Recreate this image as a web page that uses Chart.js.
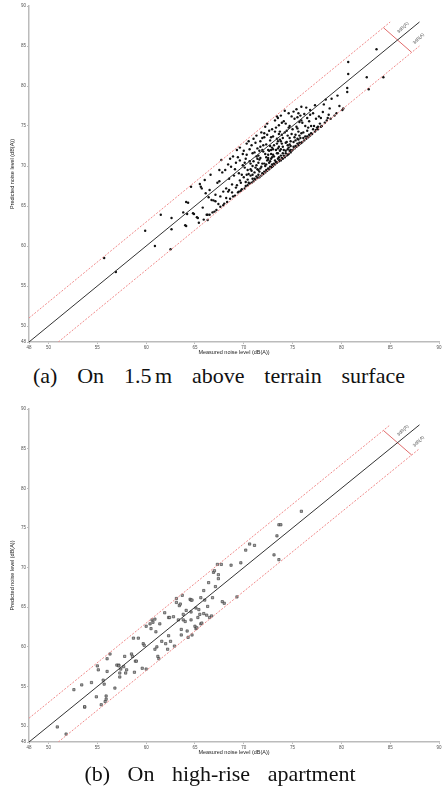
<!DOCTYPE html>
<html>
<head>
<meta charset="utf-8">
<script src="https://cdn.jsdelivr.net/npm/chart.js@4/dist/chart.umd.min.js"></script>
<style>
  body { margin: 0; background: #fff; width: 444px; height: 791px; position: relative; overflow: hidden; }
  canvas { position: absolute; left: 0; }
  .cap { position: absolute; font-family: "Liberation Serif", "DejaVu Serif", serif; font-size: 22px; color: #111; white-space: nowrap; }
  .capA { text-align: justify; text-align-last: justify; }
  .capB { text-align: center; word-spacing: 12px; }
</style>
</head>
<body>
<canvas id="chartA" width="444" height="362" style="top:0"></canvas>
<div class="cap capA" style="top:363px; left:33px; width:372px">(a) On 1.5&#8198;m above terrain surface</div>
<canvas id="chartB" width="444" height="362" style="top:400px"></canvas>
<div class="cap capB" style="top:761px; left:0; width:440px">(b) On high-rise apartment</div>
<script>
// axis ticks (same for both panels)
const tickVals = [48, 50, 55, 60, 65, 70, 75, 80, 85, 90]
const xTitle = 'Measured noise level (dB(A))'
const yTitle = 'Predicted noise level (dB(A))'
const bandLabel = '3dB(A)'

// reference lines: y = x and the +-3 dB band
const lineEqual = [[48, 48], [88, 88]]
const lineUpper = [[48, 51], [85, 88]]
const lineLower = [[51, 48], [88, 85]]
const bandMark = [[84.3, 87.3], [87.2, 84.2]]
const bandLabelPos = [[86.3, 87.3], [87.9, 85.9]]

// (a) 1.5 m above terrain: [measured, predicted]
const pointsA = [
  [55.7,58.5],[56.9,56.75],[59.9,61.9],[60.9,60.0],[61.5,63.9],
  [62.6,63.5],[62.6,62.1],[62.5,59.6],[63.8,64.2],
  [64.1,65.5],[64.3,65.4],[64.2,64.0],[64.1,62.5],[64.6,67.4],[64.8,64.1],[64.9,64.0],[64.0,62.6],
  [65.2,63.6],[65.3,63.5],[65.5,67.75],[65.6,67.4],[65.7,67.2],[65.9,63.3],[65.4,62.9],[65.8,64.8],
  [66.1,66.6],[66.3,63.9],[66.5,63.9],[66.3,63.25],[66.7,65.75],[66.5,67.0],[66.0,68.25],[66.2,63.9],[66.8,64.2],[66.6,68.9],[66.9,65.7],[66.4,66.1],
  [67.1,65.6],[67.4,65.25],[67.1,66.4],[67.5,68.1],[67.7,70.75],[67.6,64.9],[67.8,69.2],[67.2,64.5],[67.9,66.8],[67.3,67.9],[67.6,66.2],[67.9,65.1],[67.5,69.5],[67.0,64.3],
  [68.2,66.0],[68.4,66.8],[68.1,69.5],[68.6,70.9],[68.3,65.5],[68.8,67.7],[68.5,68.4],[68.9,66.2],[68.7,69.9],[68.2,67.2],[68.6,65.9],[68.9,71.2],[68.4,70.2],[68.8,66.7],[68.0,65.3],[68.5,67.0],
  [69.3,72.0],[69.1,66.3],[69.4,66.7],[69.6,68.2],[69.8,67.1],[69.2,70.4],[69.5,69.1],[69.9,71.5],[69.7,66.9],[69.0,68.8],[69.3,67.6],[69.6,70.7],[69.8,68.9],[69.4,71.1],[69.1,69.6],[69.7,67.9],[69.5,66.8],[69.9,70.1],[69.2,67.3],[69.6,72.3],
  [70.3,72.8],[70.1,67.2],[70.2,67.5],[70.4,67.6],[70.6,67.8],[70.8,67.9],[70.5,69.0],[70.7,70.3],[70.9,71.6],[70.2,70.9],[70.0,68.6],[70.4,68.3],[70.6,72.1],[70.8,69.4],[70.3,71.4],[70.9,68.4],[70.1,69.8],[70.5,73.1],[70.7,68.8],[70.2,68.0],[70.6,70.6],[70.9,70.0],[70.4,69.5],[70.0,71.9],[70.8,72.6],
  [70.3,68.9],[70.7,69.6],[70.1,70.4],[70.5,67.9],[70.9,68.9],
  [71.0,68.1],[71.2,68.3],[71.4,68.5],[71.6,68.6],[71.8,68.8],[71.1,69.2],[71.3,70.1],[71.5,71.3],[71.7,72.4],[71.9,73.5],[71.2,72.9],[71.4,69.6],[71.6,70.8],[71.8,69.9],[71.0,70.6],[71.3,73.8],[71.5,68.9],[71.7,71.0],[71.9,72.0],[71.1,71.7],[71.4,72.2],[71.6,69.3],[71.8,74.2],[71.2,69.8],[71.5,70.4],[71.9,69.1],[71.3,68.7],[71.7,73.1],[71.0,73.4],[71.6,71.9],
  [71.1,68.4],[71.5,69.5],[71.9,70.3],[71.3,71.2],[71.7,69.7],[71.4,70.9],
  [72.2,74.9],[72.0,69.0],[72.2,69.2],[72.4,69.4],[72.6,69.6],[72.8,69.8],[72.1,70.3],[72.3,71.1],[72.5,72.0],[72.7,73.2],[72.9,74.6],[72.4,75.3],[72.6,70.4],[72.8,71.5],[72.0,71.8],[72.3,72.7],[72.5,70.8],[72.7,69.9],[72.9,72.3],[72.1,73.6],[72.4,73.9],[72.6,74.4],[72.8,70.9],[72.2,70.0],[72.5,71.4],[72.7,72.5],[72.9,70.2],[72.0,72.6],[72.3,69.5],[72.6,71.9],[72.8,73.6],[72.4,70.7],[72.1,74.1],[72.9,71.1],[72.5,69.7],
  [72.1,69.3],[72.3,70.2],[72.7,70.6],[72.9,69.9],[72.5,71.0],[72.2,71.5],[72.8,72.0],
  [73.5,76.0],[73.0,70.0],[73.2,70.2],[73.4,70.4],[73.6,70.6],[73.8,70.7],[73.1,71.2],[73.3,72.0],[73.5,73.1],[73.7,74.3],[73.9,75.4],[73.2,75.7],[73.4,71.6],[73.6,72.4],[73.8,71.3],[73.0,73.7],[73.3,74.8],[73.5,70.9],[73.7,71.9],[73.9,72.8],[73.1,72.6],[73.4,73.4],[73.6,74.0],[73.8,76.3],[73.0,71.4],[73.2,74.3],[73.5,72.2],[73.7,70.8],[73.9,73.9],[73.3,70.5],[73.6,75.1],[73.8,72.1],[73.1,70.3],[73.4,76.2],[73.7,73.3],
  [73.2,70.7],[73.6,71.1],[73.9,71.0],[73.4,72.8],[73.0,72.1],[73.8,73.1],[73.5,71.6],
  [74.6,76.6],[74.0,70.9],[74.2,71.1],[74.4,71.3],[74.6,71.5],[74.8,71.7],[74.1,72.0],[74.3,72.9],[74.5,73.8],[74.7,75.0],[74.9,76.2],[74.2,76.9],[74.4,74.4],[74.6,72.3],[74.8,73.1],[74.0,73.5],[74.3,71.6],[74.5,72.6],[74.7,71.9],[74.9,74.0],[74.1,75.6],[74.4,73.0],[74.6,74.8],[74.8,72.5],[74.2,74.2],[74.5,71.4],[74.7,73.5],[74.9,71.9],[74.0,72.4],[74.3,75.3],
  [74.1,71.3],[74.5,72.1],[74.8,72.0],[74.3,71.9],[74.7,72.7],[74.0,71.6],
  [75.9,77.4],[75.6,76.6],[75.0,72.0],[75.2,72.2],[75.4,72.4],[75.6,72.6],[75.8,72.8],[75.1,73.0],[75.3,73.9],[75.5,74.7],[75.7,75.5],[75.9,74.1],[75.2,75.9],[75.4,77.1],[75.6,73.3],[75.8,76.3],[75.0,74.6],[75.3,72.5],[75.5,73.4],[75.7,72.9],[75.9,75.7],[75.1,76.8],[75.4,74.9],[75.6,74.3],[75.8,73.5],[75.2,73.6],[75.5,76.1],[75.9,72.9],
  [75.1,72.4],[75.5,72.8],[75.7,73.8],[75.3,73.2],
  [76.5,76.0],[76.0,73.0],[76.2,73.2],[76.4,73.4],[76.6,73.6],[76.8,73.8],[76.1,74.2],[76.3,75.0],[76.5,74.4],[76.7,75.6],[76.9,74.1],[76.2,76.5],[76.4,77.3],[76.6,74.8],[76.8,76.4],[76.0,75.4],[76.3,73.7],[76.7,73.9],[76.9,75.0],[76.1,73.5],[76.5,73.7],[76.8,77.0],
  [77.1,76.6],[77.0,74.0],[77.3,74.3],[77.6,74.6],[77.9,74.9],[77.2,75.0],[77.4,75.9],[77.7,76.2],[77.5,74.8],[77.8,75.3],[77.3,77.6],[77.6,74.9],[77.1,74.6],[77.9,76.0],[77.4,74.5],
  [78.1,76.75],[78.0,75.0],[78.3,75.4],[78.5,75.7],[78.7,76.4],[78.9,75.9],[78.2,77.7],[78.6,76.0],[78.4,78.3],[78.8,77.2],
  [79.0,78.4],[79.3,76.3],[79.5,76.6],[79.8,77.5],[80.1,77.0],[80.2,77.2],[79.6,78.8],[80.6,79.75],[80.6,79.25],[80.7,81.5],[80.7,83.0],
  [82.6,81.1],[82.8,79.6],[84.3,81.1],[83.6,84.6]
]

// (b) high-rise apartment: [measured, predicted]
const pointsB = [
  [50.9,49.9],[51.8,49.0],[52.6,54.6],[53.4,55.2],[53.7,52.4],[53.7,52.45],[54.4,55.5],[54.9,53.7],[55.0,57.6],[55.1,57.1],
  [55.4,52.7],[55.6,55.8],[55.7,55.3],[55.8,53.1],[55.9,53.8],[55.9,53.4],[56.0,56.9],[56.0,58.5],[56.3,59.1],[56.8,54.8],
  [57.0,57.7],[57.2,57.7],[57.3,56.7],[57.3,56.2],[57.2,57.6],[57.4,57.2],[57.7,57.5],[57.8,58.8],[57.9,56.7],[58.0,57.1],
  [58.5,59.1],[58.6,58.8],[58.8,56.8],[58.9,58.2],[59.0,58.2],[58.7,61.1],[59.2,61.1],[59.7,60.4],[59.8,60.2],[59.6,57.3],
  [60.0,57.2],[60.0,62.6],[60.4,62.9],[60.5,62.3],[60.6,63.4],[60.7,63.1],[60.9,63.5],[61.0,61.9],[61.1,60.0],[60.9,59.7],
  [61.2,58.8],[61.3,58.5],[61.4,62.9],[61.6,60.7],[61.9,64.3],[62.0,60.4],[62.2,59.7],[62.3,61.4],[62.3,63.7],[62.4,63.7],
  [62.5,60.7],[62.8,63.8],[62.9,60.1],[63.1,65.6],[63.1,66.1],[63.3,63.4],[63.4,65.2],[63.5,65.4],[63.6,62.2],[63.6,61.5],
  [63.7,66.5],[63.8,63.4],[63.8,64.1],[64.0,63.2],[64.1,64.6],[64.2,62.0],[64.3,61.2],[64.5,66.0],[64.6,65.9],[64.7,65.9],
  [64.6,63.4],[64.6,64.4],[64.7,61.5],[65.0,62.6],[65.1,64.9],[65.1,62.3],[65.2,62.4],[65.3,63.7],[65.4,64.7],[65.5,64.1],
  [65.6,66.2],[65.6,62.9],[65.7,63.0],[65.9,64.2],[65.9,67.1],[66.0,65.9],[66.2,64.0],[66.3,65.1],[66.4,68.1],[66.5,63.7],
  [66.7,63.9],[66.8,66.2],[66.9,69.4],[67.0,69.6],[67.1,67.6],[67.3,70.4],[67.4,69.1],[67.4,68.6],[67.7,70.4],[67.8,65.7],
  [68.0,65.5],[68.7,70.3],[69.3,66.3],[69.7,70.6],[70.2,72.2],[70.6,72.97],[71.1,72.8],[73.1,71.6],[73.4,74.0],[73.6,71.0],
  [73.6,75.4],[73.8,75.4],[75.9,77.1]
]

const toXY = arr => arr.map(p => ({x: p[0], y: p[1]}))

// "3dB(A)" sildid vahemiku tähistuse juures
const bandTextPlugin = {
  id: 'bandText',
  afterDatasetsDraw(chart) {
    const c = chart.ctx
    const xs = chart.scales.x, ys = chart.scales.y
    c.save()
    c.fillStyle = '#555'
    c.font = '4.5px "Liberation Sans", Arial, sans-serif'
    c.textAlign = 'center'
    c.textBaseline = 'middle'
    bandLabelPos.forEach(p => {
      c.save()
      c.translate(xs.getPixelForValue(p[0]), ys.getPixelForValue(p[1]))
      c.rotate(-Math.PI / 4)
      c.fillText(bandLabel, 0, 0)
      c.restore()
    })
    c.restore()
  }
}

function makeChart(id, points, pointOpts, topPad) {
  const ctx = document.getElementById(id).getContext('2d')
  const axis = (title, isY) => ({
    type: 'linear',
    min: 48,
    max: 90,
    afterBuildTicks: s => { s.ticks = tickVals.map(v => ({value: v})) },
    afterFit: s => { if (isY) s.width = 29; else s.height = 20 },
    border: {display: true, color: '#bbb', width: 1.5},
    grid: {drawOnChartArea: false, drawTicks: true, tickLength: 2, color: '#bbb'},
    ticks: {
      color: '#555',
      padding: 1,
      maxRotation: 0,
      autoSkip: false,
      font: {size: 4.5, family: '"Liberation Sans", Arial, sans-serif'},
      callback: v => String(v)
    },
    title: {
      display: true,
      text: title,
      color: '#222',
      font: {size: 5.5, family: '"Liberation Sans", Arial, sans-serif'},
      padding: isY ? {top: 9, bottom: 0} : {top: 0, bottom: 6}
    }
  })
  const lineDs = (arr, color, dash, w) => ({
    type: 'line',
    data: toXY(arr),
    borderColor: color,
    borderWidth: w,
    borderDash: dash,
    pointRadius: 0,
    showLine: true,
    fill: false
  })
  return new Chart(ctx, {
    type: 'scatter',
    data: {
      datasets: [
        lineDs(lineUpper, '#f08a8a', [2, 1.5], 1),
        lineDs(lineLower, '#f08a8a', [2, 1.5], 1),
        lineDs(lineEqual, '#333', [], 1),
        lineDs(bandMark, '#e06a6a', [], 1),
        Object.assign({data: toXY(points)}, pointOpts)
      ]
    },
    options: {
      responsive: false,
      animation: false,
      layout: {padding: {top: topPad, right: 5, left: 0, bottom: 0}},
      plugins: {legend: {display: false}, tooltip: {enabled: false}},
      scales: {x: axis(xTitle, false), y: axis(yTitle, true)}
    },
    plugins: [bandTextPlugin]
  })
}

makeChart('chartA', pointsA, {
  pointStyle: 'circle', pointRadius: 1.2, backgroundColor: '#111', borderColor: '#111', borderWidth: 0
}, 6)
makeChart('chartB', pointsB, {
  pointStyle: 'rect', pointRadius: 1.6, backgroundColor: '#aaa', borderColor: '#333', borderWidth: 0.6
}, 9)
</script>
</body>
</html>
